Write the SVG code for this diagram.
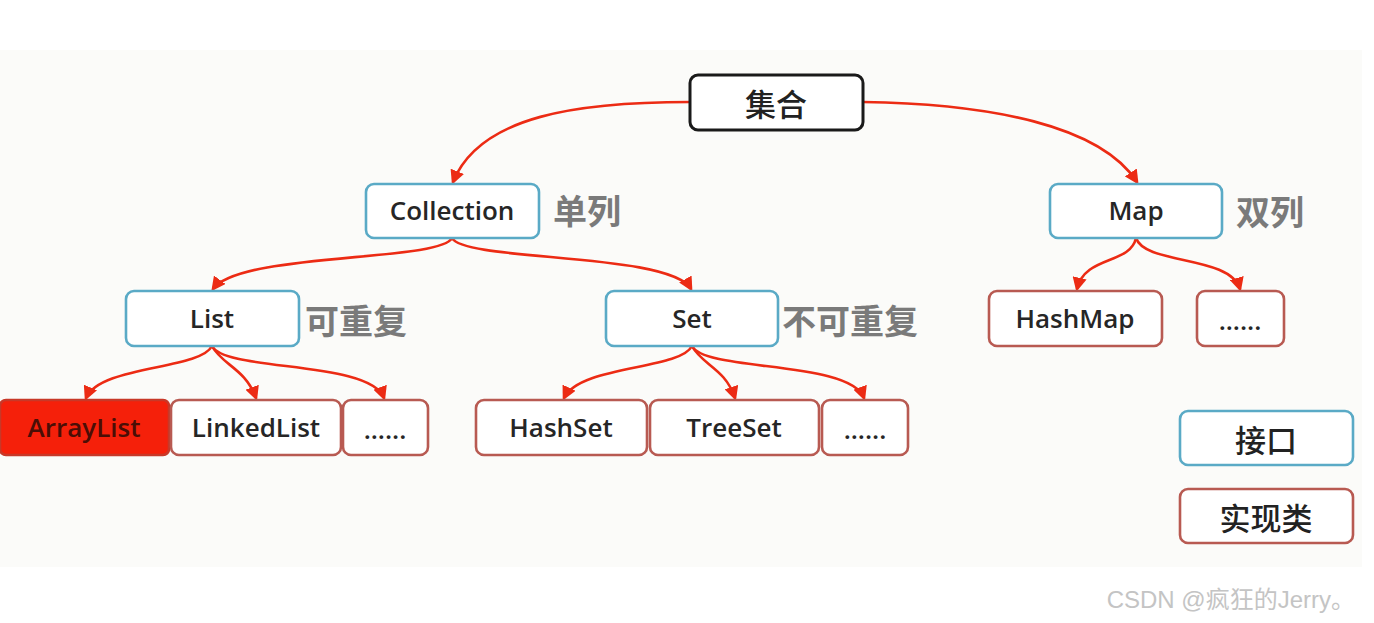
<svg xmlns="http://www.w3.org/2000/svg" width="1374" height="623" viewBox="0 0 1374 623">
<defs>
<marker id="ah" viewBox="0 0 10 10" refX="8" refY="5" markerWidth="5.5" markerHeight="5.5" orient="auto" markerUnits="strokeWidth">
<path d="M0,0 L10,5 L0,10 z" fill="#ec2b14"/>
</marker>
<style>
.bg{fill:#fbfbf9}
.box{fill:#ffffff;stroke-width:2.6}
.root{stroke:#1a1a1a;stroke-width:3}
.intf{stroke:#5aaac6}
.impl{stroke:#b85a52}
.t{font-family:"Open Sans","Noto Sans","Noto Sans CJK SC",sans-serif;font-size:26px;font-weight:600;fill:#262626;text-anchor:middle;dominant-baseline:central}
.cn{font-family:"Noto Sans CJK SC",sans-serif;font-size:34px;font-weight:bold;fill:#7a7a7a;dominant-baseline:central}
.k{font-family:"Noto Sans CJK SC",sans-serif;font-size:31px;font-weight:500;fill:#222;text-anchor:middle;dominant-baseline:central}
.c{fill:none;stroke:#ec2b14;stroke-width:2.6;marker-end:url(#ah)}
</style>
</defs>
<rect class="bg" x="0" y="50" width="1362" height="517"/>
<g id="connectors">
<path class="c" d="M690,102 C580,102 480,115 453,182"/>
<path class="c" d="M863,102 C990,104 1100,125 1137,182"/>
<path class="c" d="M452,238 C440,262 240,252 213,289"/>
<path class="c" d="M452,238 C465,262 670,252 691,289"/>
<path class="c" d="M212,346 C200,370 100,365 86,398"/>
<path class="c" d="M212,346 C222,365 245,368 256,398"/>
<path class="c" d="M212,346 C225,372 370,360 384,398"/>
<path class="c" d="M692,346 C680,370 580,365 564,398"/>
<path class="c" d="M692,346 C702,365 725,368 735,398"/>
<path class="c" d="M692,346 C705,372 850,360 864,398"/>
<path class="c" d="M1136,238 C1130,265 1085,255 1077,289"/>
<path class="c" d="M1136,238 C1145,265 1230,255 1240,289"/>
</g>
<g id="n-jihe"><rect class="box root" x="690" y="75" width="173" height="55" rx="8"/><text class="k" x="776" y="102">集合</text></g>
<g id="n-collection"><rect class="box intf" x="366" y="184" width="173" height="54" rx="8"/><text class="t" x="452" y="210">Collection</text></g>
<text class="cn" x="553" y="209">单列</text>
<g id="n-map"><rect class="box intf" x="1050" y="184" width="172" height="54" rx="8"/><text class="t" x="1136" y="210">Map</text></g>
<text class="cn" x="1236" y="210">双列</text>
<g id="n-list"><rect class="box intf" x="126" y="291" width="173" height="55" rx="8"/><text class="t" x="212" y="318">List</text></g>
<text class="cn" x="305" y="319">可重复</text>
<g id="n-set"><rect class="box intf" x="606" y="291" width="172" height="55" rx="8"/><text class="t" x="692" y="318">Set</text></g>
<text class="cn" x="782" y="319">不可重复</text>
<g id="n-hashmap"><rect class="box impl" x="989" y="291" width="173" height="55" rx="8"/><text class="t" x="1075" y="318">HashMap</text></g>
<g id="n-mapmore"><rect class="box impl" x="1197" y="291" width="87" height="55" rx="8"/><text class="t" x="1240" y="320">......</text></g>
<g id="n-arraylist"><rect class="box" x="0" y="400" width="169" height="55" rx="6" style="fill:#f5200a;stroke:#c83828"/><text class="t" x="84" y="427" style="fill:#4a0e06">ArrayList</text></g>
<g id="n-linkedlist"><rect class="box impl" x="171" y="400" width="170" height="55" rx="8"/><text class="t" x="256" y="427">LinkedList</text></g>
<g id="n-listmore"><rect class="box impl" x="343" y="400" width="85" height="55" rx="8"/><text class="t" x="385" y="429">......</text></g>
<g id="n-hashset"><rect class="box impl" x="476" y="400" width="171" height="55" rx="8"/><text class="t" x="561" y="427">HashSet</text></g>
<g id="n-treeset"><rect class="box impl" x="650" y="400" width="169" height="55" rx="8"/><text class="t" x="734" y="427">TreeSet</text></g>
<g id="n-setmore"><rect class="box impl" x="822" y="400" width="86" height="55" rx="8"/><text class="t" x="865" y="429">......</text></g>
<g id="legend-interface"><rect class="box intf" x="1180" y="411" width="173" height="54" rx="8"/><text class="k" x="1266" y="438">接口</text></g>
<g id="legend-impl"><rect class="box impl" x="1180" y="489" width="173" height="54" rx="8"/><text class="k" x="1266" y="516">实现类</text></g>
<text x="1355" y="608" style="font-family:'Liberation Sans','Noto Sans CJK SC',sans-serif;font-size:24px;fill:#c4c4c4;text-anchor:end">CSDN @疯狂的Jerry。</text>
</svg>
